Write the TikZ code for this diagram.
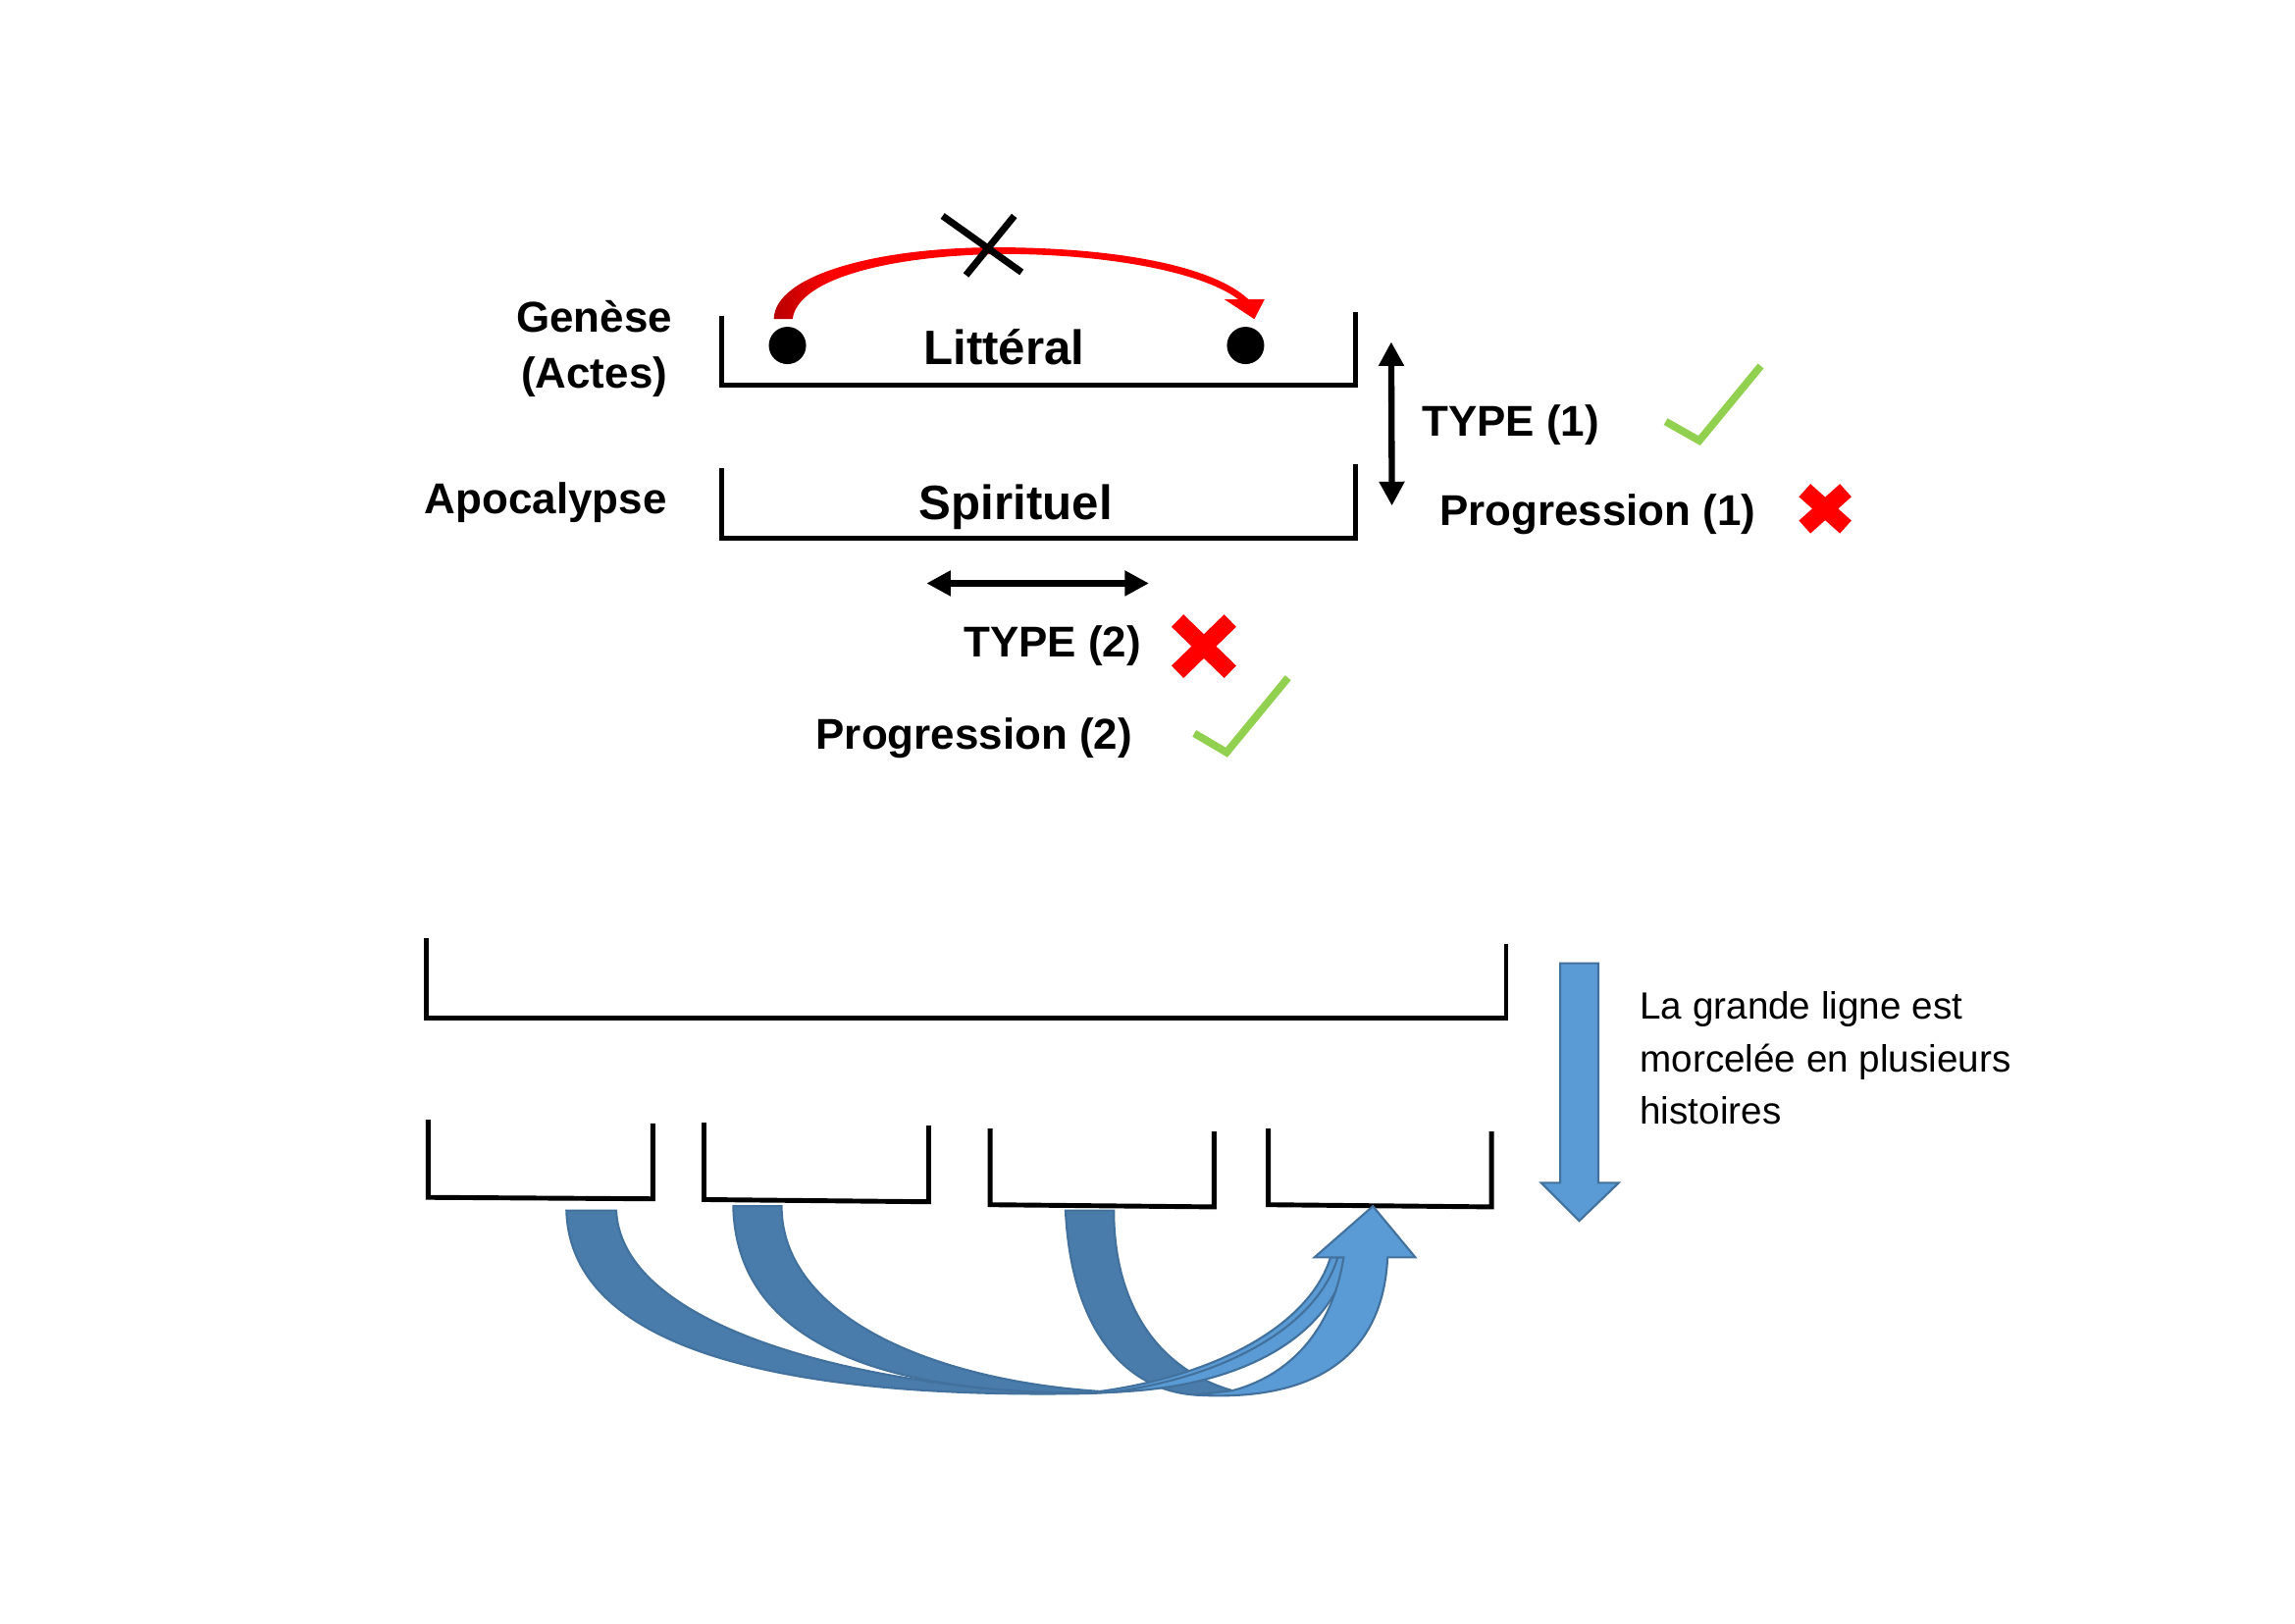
\documentclass[tikz,border=0pt]{standalone}
\usepackage{fontspec}
\setmainfont{Liberation Sans}
\usepackage{tikz}
\usetikzlibrary{arrows.meta}

\definecolor{tick_green}{HTML}{92D050}
\definecolor{arr_light}{HTML}{5B9BD5}
\definecolor{arr_dark}{HTML}{497CAA}
\definecolor{arr_line}{HTML}{41719C}
\pgfdeclarehorizontalshading{arc_shade}{100bp}{color(0bp)=(red!72!black); color(25bp)=(red!72!black); color(31bp)=(red); color(100bp)=(red)}

\begin{document}
\begin{tikzpicture}[x=0.14917mm,y=-0.14917mm,
  lbl/.style={font=\bfseries\fontsize{12.5}{16.2}\selectfont,inner sep=0pt},
  big_lbl/.style={font=\bfseries\fontsize{14}{17}\selectfont,inner sep=0pt},
  side_txt/.style={font=\fontsize{11}{15.2}\selectfont,inner sep=0pt,align=left},
  blob/.style={circle,fill=black,inner sep=0pt,minimum size=3.8mm},
  brk/.style={line width=1.4pt},
  twoway/.style={line width=1.8pt,{Triangle[length=7pt,width=7pt]}-{Triangle[length=7pt,width=7pt]}},
  green_tick/.style={draw=tick_green,line width=2.2pt},
  red_x/.style={draw=red,line width=5pt},
  dark_band/.style={fill=arr_dark,draw=arr_line,line width=0.6pt},
  light_face/.style={fill=arr_light,draw=arr_line,line width=0.6pt}]
\useasboundingbox (0,0) rectangle (1568,1109);

% top part
\node[lbl,align=center] (genese) at (406,238) {Genèse\\(Actes)};
\node[lbl,anchor=base east] (apoc) at (456,351) {Apocalypse};
\node[big_lbl,anchor=base] (litteral) at (686,249) {Littéral};
\node[big_lbl,anchor=base] (spirituel) at (694,355) {Spirituel};
\node[blob] (dot_1) at (538,236) {};
\node[blob] (dot_2) at (851,236) {};

\draw[brk] (493,216) -- (493,263) -- (926,263) -- (926,213);
\draw[brk] (493,320) -- (493,367.5) -- (926,367.5) -- (926,317);

\shade[shading=arc_shade] (528.7,218) .. controls (529,188) and (600,168) .. (688,169)
  .. controls (770,170) and (830,183) .. (853,204.5) -- (864,204.5) -- (857,218)
  -- (836.5,204.5) -- (846,204.5) .. controls (825,188) and (765,174) .. (688,173.5)
  .. controls (610,174) and (545,190) .. (541.5,218) -- cycle;
\draw[line width=2pt] (644,147.5) -- (698,186) (693,147.5) -- (660,188);

\coordinate (v_top) at (950.5,233.5);
\coordinate (v_bot) at (951,345.5);
\draw[twoway] (v_top) -- (v_bot);
\coordinate (h_left) at (633,398.5);
\coordinate (h_right) at (785,398.5);
\draw[twoway] (h_left) -- (h_right);

\node[lbl,anchor=base west] (type_1) at (971,298) {TYPE (1)};
\node[lbl,anchor=base west] (prog_1) at (983,359) {Progression (1)};
\node[lbl,anchor=base east] (type_2) at (780,449) {TYPE (2)};
\node[lbl,anchor=base east] (prog_2) at (774,512) {Progression (2)};

\draw[green_tick] (1138,288) -- (1161,301) -- (1203,250);
\draw[green_tick] (816,501) -- (838,514) -- (880,463);
\draw[red_x] (1233,335) -- (1261,360) (1261,335) -- (1233,360);
\draw[red_x] (804.5,424) -- (840.5,459) (840.5,424) -- (804.5,459);

% bottom part
\draw[brk] (291,641) -- (291,695.5) -- (1029,695.5) -- (1029,645);
\draw[brk] (292.5,765) -- (292.5,818) -- (446,819) -- (446,767.5);
\draw[brk] (481,767) -- (481,819.5) -- (634.5,821) -- (634.5,769);
\draw[brk] (676.5,771) -- (676.5,823) -- (829.5,824.5) -- (829.5,773);
\draw[brk] (866.5,771) -- (866.5,823) -- (1019,824.5) -- (1019,773);

\draw[light_face] (1066,658) -- (1092,658) -- (1092,808) -- (1106,808)
  -- (1079,834) -- (1053,808) -- (1066,808) -- cycle;
\node[side_txt,anchor=north west] (note_txt) at (1120,677)
  {La grande ligne est\\morcelée en plusieurs\\histoires};

\draw[dark_band] (387,827) .. controls (390,930) and (560,955) .. (740,952)
  .. controls (600,950) and (425,910) .. (421,827) -- cycle;
\draw[dark_band] (501,824) .. controls (503,925) and (620,955) .. (760,951)
  .. controls (640,945) and (534,900) .. (534,824) -- cycle;
\draw[dark_band] (728,827) .. controls (732,910) and (770,950) .. (817,953)
  -- (842,950) .. controls (790,935) and (761,890) .. (761,827) -- cycle;
\draw[light_face] (740,952) .. controls (840,950) and (905,915) .. (916,859)
  -- (909,859) .. controls (895,905) and (830,942) .. (740,952) -- cycle;
\draw[light_face] (760,951) .. controls (850,948) and (910,912) .. (921,859)
  -- (914,859) .. controls (900,905) and (840,940) .. (760,951) -- cycle;
\draw[light_face] (817,953) .. controls (900,958) and (945,925) .. (948,859)
  -- (967,859) -- (938,824) -- (898,859) -- (918,859)
  .. controls (910,910) and (880,940) .. (842,950) -- cycle;
\end{tikzpicture}
\end{document}
